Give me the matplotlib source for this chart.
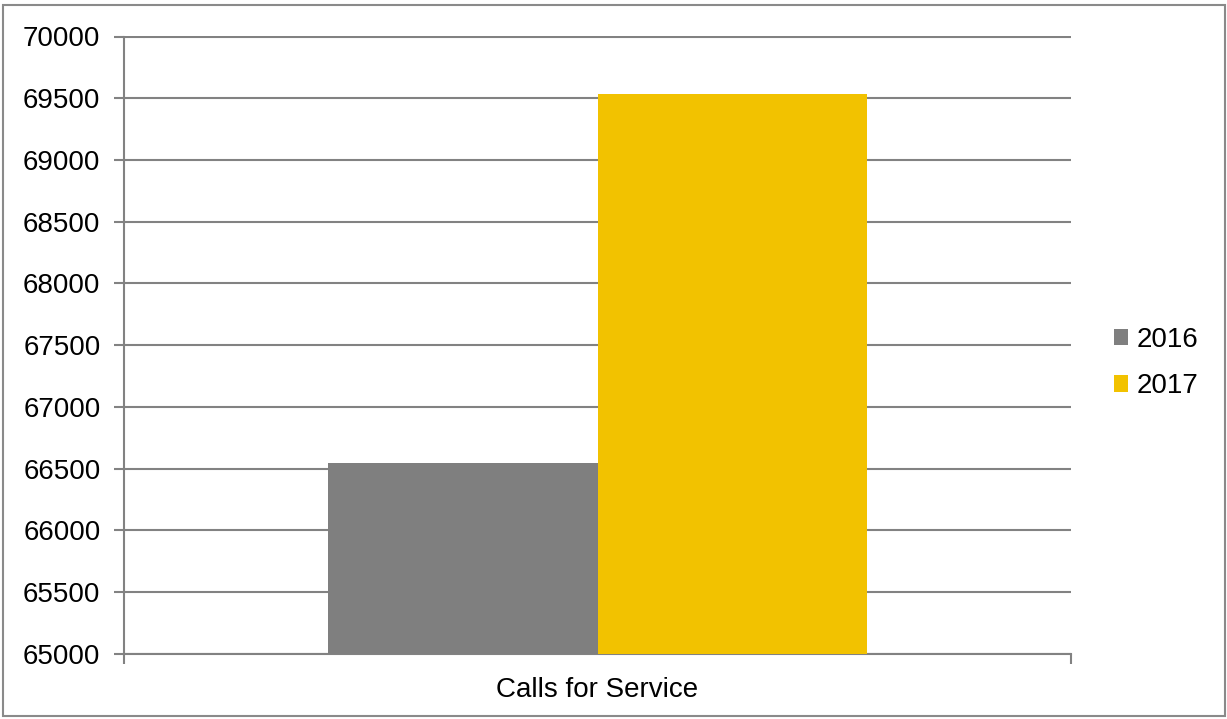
import matplotlib
matplotlib.use("Agg")
import matplotlib.pyplot as plt
from matplotlib.patches import Rectangle

category = "Calls for Service"
years = ["2016", "2017"]
values = [66545, 69535]
colors = ["#7f7f7f", "#f2c200"]
yticks = list(range(65000, 70001, 500))

plt.rcParams['font.family'] = ['Liberation Sans', 'DejaVu Sans']

fig = plt.figure(figsize=(12.27, 7.19), dpi=100)
ax = fig.add_axes([124 / 1227, 65.3 / 719, (1071 - 124) / 1227, (682.5 - 65.3) / 719])

width = 0.285
offsets = [-width / 2, width / 2]
for yr, v, c, off in zip(years, values, colors, offsets):
    ax.bar(off, v - 65000, width=width, bottom=65000, color=c, label=yr, zorder=3)

ax.set_xlim(-0.5, 0.5)
ax.set_ylim(65000, 70000)
ax.set_yticks(yticks)
ax.set_yticklabels([str(t) for t in yticks], fontsize=20)
ax.yaxis.grid(True, color="#828282", linewidth=1.5, zorder=0)
ax.set_axisbelow(True)

ax.set_xticks([-0.5, 0.5])
ax.set_xticklabels(["", ""])
ax.set_xticks([0], minor=True)
ax.set_xticklabels([category], minor=True, fontsize=20)
ax.tick_params(axis="x", which="minor", length=0, pad=17)
ax.tick_params(axis="x", which="major", length=7, width=1.5, color="#828282")
ax.tick_params(axis="y", length=7, width=1.5, color="#828282", pad=10)

for s in ["top", "right"]:
    ax.spines[s].set_visible(False)
for s in ["left", "bottom"]:
    ax.spines[s].set_color("#828282")
    ax.spines[s].set_linewidth(1.5)

fig.legend(loc="center left", bbox_to_anchor=(1114 / 1227, (719 - 363) / 719),
           frameon=False, fontsize=20, handlelength=0.52, handleheight=0.52,
           handletextpad=0.3, labelspacing=0.75, borderpad=0, borderaxespad=0)

fig.patches.append(Rectangle((3 / 1227, 3 / 719), 1222 / 1227, 711 / 719,
                             transform=fig.transFigure, fill=False,
                             edgecolor="#8a8a8a", linewidth=1.5))

fig.savefig("out.png", dpi=100)
